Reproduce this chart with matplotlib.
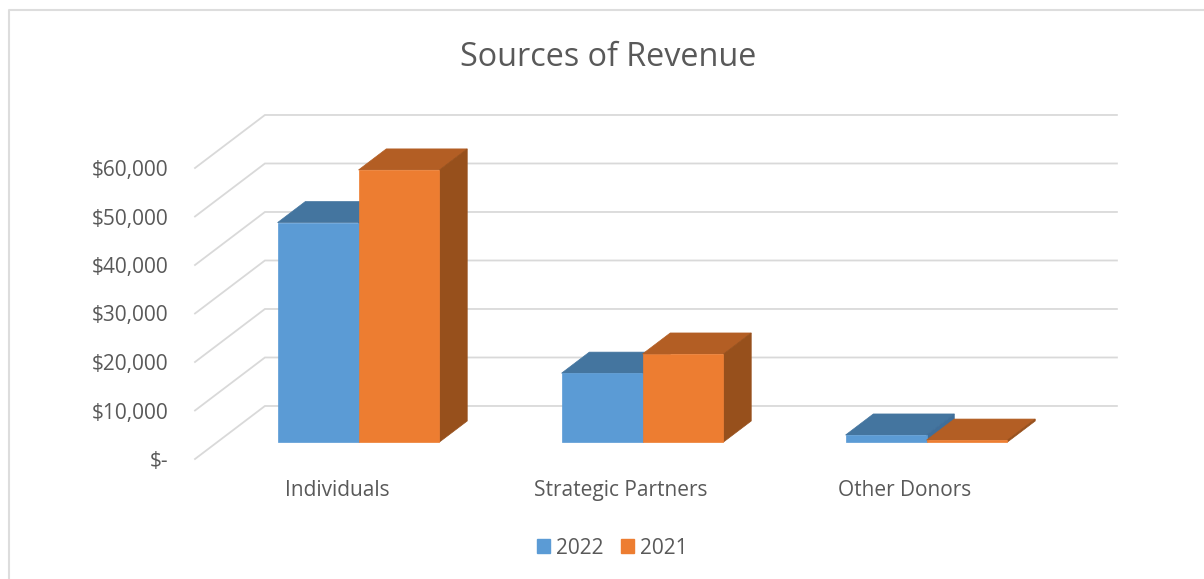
import matplotlib
matplotlib.use('Agg')
import matplotlib.pyplot as plt
from matplotlib.lines import Line2D
from matplotlib.patches import Patch, Polygon

categories = ['Individuals', 'Strategic Partners', 'Other Donors']
series_names = ['2022', '2021']
values_2022 = [45250, 14200, 1450]
values_2021 = [56100, 18150, 400]
y_ticks = [0, 10000, 20000, 30000, 40000, 50000, 60000]
y_labels = ['$-', '$10,000', '$20,000', '$30,000', '$40,000', '$50,000', '$60,000']

W, H = 1204, 579
plt.rcParams['font.family'] = ['Open Sans', 'DejaVu Sans']
TEXT = '#595959'
GRID = '#D9D9D9'

# fake 3D: the back wall sits this far from the front plane, in data units
DEPTH_X = 0.2462
DEPTH_Y = 10930
BAR_FRONT = 0.32
BAR_BACK = 0.717
BAR_W = 0.285

fig = plt.figure(figsize=(W / 100, H / 100), dpi=100)
ax = fig.add_axes([195 / W, 1 - 459 / H, 852 / W, 291 / H])
ax.set_xlim(-0.5, 2.5)
ax.set_ylim(0, 60000)
for s in ax.spines.values():
    s.set_visible(False)
ax.patch.set_visible(False)


def shift(x, y, frac):
    return (x + DEPTH_X * frac, y + DEPTH_Y * frac)


# gridlines run along the side wall and then the back wall
for v in y_ticks:
    ax.plot([-0.5, -0.5 + DEPTH_X, 2.5 + DEPTH_X], [v, v + DEPTH_Y, v + DEPTH_Y],
            color=GRID, lw=1.3, clip_on=False, zorder=1, solid_joinstyle='miter')


def draw_bar(x0, val, front, top, side):
    x1 = x0 + BAR_W
    f = BAR_FRONT
    b = BAR_BACK
    top_pts = [shift(x0, val, f), shift(x1, val, f), shift(x1, val, b), shift(x0, val, b)]
    side_pts = [shift(x1, 0, f), shift(x1, val, f), shift(x1, val, b), shift(x1, 0, b)]
    front_pts = [shift(x0, 0, f), shift(x1, 0, f), shift(x1, val, f), shift(x0, val, f)]
    ax.add_patch(Polygon(top_pts, color=top, lw=0.5, clip_on=False, zorder=3))
    ax.add_patch(Polygon(side_pts, color=side, lw=0.5, clip_on=False, zorder=3))
    ax.add_patch(Polygon(front_pts, color=front, lw=0.5, clip_on=False, zorder=3))


for i in range(len(categories)):
    draw_bar(i - BAR_W - 0.003, values_2022[i], '#5B9BD5', '#44759F', '#3F6E99')
    draw_bar(i - 0.003, values_2021[i], '#ED7D31', '#B35E24', '#97501C')

ax.set_xticks(range(len(categories)))
ax.set_xticklabels(categories, fontsize=15, color=TEXT)
ax.set_yticks(y_ticks)
ax.set_yticklabels(y_labels, fontsize=15, color=TEXT)
ax.tick_params(axis='x', length=0, pad=15)
ax.tick_params(axis='y', length=0, pad=19)

fig.text(608 / W, 1 - 57 / H, 'Sources of Revenue', fontsize=23.3, color=TEXT, ha='center', va='center')

handles = [Patch(color='#5B9BD5'), Patch(color='#ED7D31')]
fig.legend(handles, series_names, loc='center', bbox_to_anchor=(612.5 / W, 1 - 548 / H),
           ncol=2, frameon=False, fontsize=15, labelcolor=TEXT, handlelength=0.62,
           handleheight=0.62, handletextpad=0.28, columnspacing=0.85,
           borderpad=0)

# chart frame, cut off by the picture on the right and bottom
fig.add_artist(Line2D([9 / W, 9 / W, 1], [0, 1 - 10 / H, 1 - 10 / H], color='#DDDDDD', lw=1.5))

fig.savefig('out.png', dpi=100)
